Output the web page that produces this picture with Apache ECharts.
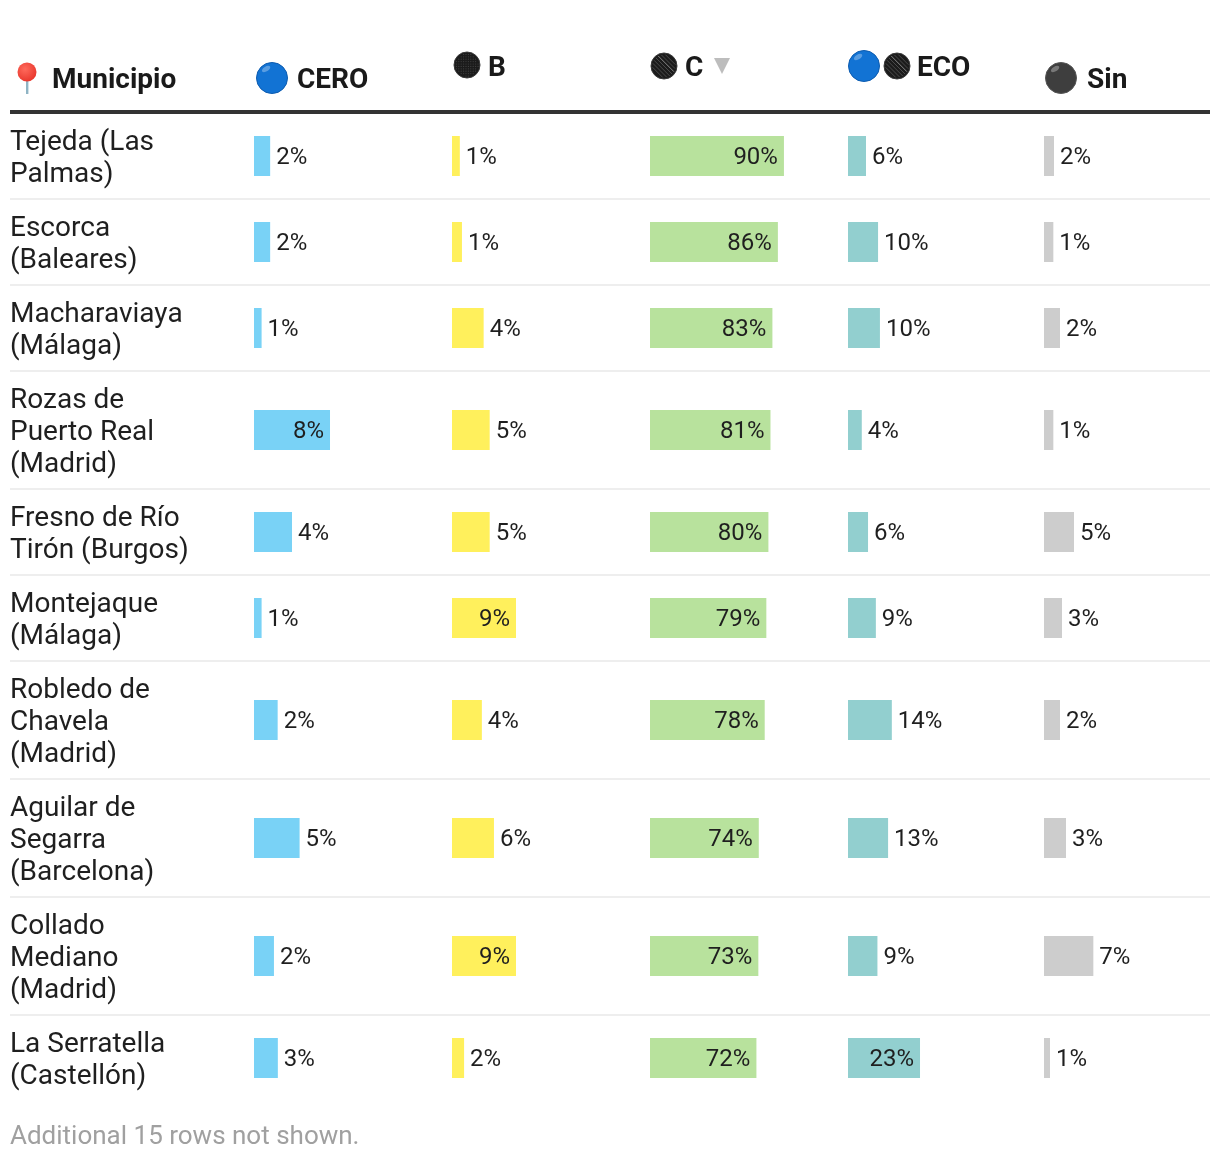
<!DOCTYPE html>
<html>
<head>
<meta charset="utf-8">
<style>html,body{margin:0;padding:0;background:#fff}#chart{width:1220px;height:1160px}</style>
<script src="https://cdn.jsdelivr.net/npm/echarts@6/dist/echarts.min.js"></script>
</head>
<body>
<div id="chart"></div>
<script>
const municipios = [
  "Tejeda (Las\nPalmas)", "Escorca\n(Baleares)", "Macharaviaya\n(Málaga)",
  "Rozas de\nPuerto Real\n(Madrid)", "Fresno de Río\nTirón (Burgos)", "Montejaque\n(Málaga)",
  "Robledo de\nChavela\n(Madrid)", "Aguilar de\nSegarra\n(Barcelona)", "Collado\nMediano\n(Madrid)",
  "La Serratella\n(Castellón)"
];
const cero = [1.7, 1.7, 0.8, 8.0, 4.0, 0.8, 2.49, 4.8, 2.1, 2.51];
const b    = [1.1, 1.4, 4.45, 5.3, 5.3, 9.0, 4.2, 5.9, 9.0, 1.7];
const c    = [90.49, 86.4, 82.7, 81.4, 80.0, 78.6, 77.5, 73.5, 73.2, 71.9];
const eco  = [5.75, 9.6, 10.2, 4.4, 6.4, 8.9, 14.0, 12.8, 9.4, 23.0];
const sin  = [1.5, 1.4, 2.4, 1.4, 4.5, 2.7, 2.4, 3.3, 7.4, 0.9];
const headers = ["Municipio", "CERO", "B", "C", "ECO", "Sin"];
const footnote = "Additional 15 rows not shown.";

const FONT = "Roboto";
const INK = "#1f1f1f";
const TOP = 113, LINE = 32, PAD = 22, BAR_H = 40, COL_W = 160;

// rows are as tall as their wrapped name
let cursor = 0;
const rowCenters = [], rowEnds = [];
municipios.forEach(n => {
  const h = n.split("\n").length * LINE + PAD;
  rowCenters.push(cursor + h / 2);
  cursor += h;
  rowEnds.push(cursor);
});
const TOTAL = cursor;

const columns = [
  { name: "CERO", data: cero, color: "#79d2f6", left: 254,  max: 16.84 },
  { name: "B",    data: b,    color: "#fff05c", left: 452,  max: 22.5 },
  { name: "C",    data: c,    color: "#b8e29d", left: 650,  max: 108.1 },
  { name: "ECO",  data: eco,  color: "#92cfcf", left: 848,  max: 51.1 },
  { name: "Sin",  data: sin,  color: "#cdcdcd", left: 1044, max: 24 }
];

const grid = [{ left: 10, top: TOP, width: 230, height: TOTAL }];
const xAxis = [{ gridIndex: 0, type: "value", min: 0, max: 1, show: false }];
const yAxis = [{ gridIndex: 0, type: "value", min: 0, max: TOTAL, inverse: true, show: false }];
const series = [{
  type: "custom", name: "Municipio", xAxisIndex: 0, yAxisIndex: 0, silent: true, clip: false,
  data: municipios.map((n, i) => [0, rowCenters[i], n]),
  encode: { x: 0, y: 1 },
  renderItem: (p, api) => {
    const pt = api.coord([0, api.value(1)]);
    return { type: "text", style: {
      text: municipios[p.dataIndex], x: pt[0], y: pt[1] + 3,
      fontFamily: FONT, fontSize: 28, lineHeight: LINE, fill: INK,
      align: "left", verticalAlign: "middle" } };
  }
}];

columns.forEach((col, k) => {
  const idx = k + 1;
  grid.push({ left: col.left, top: TOP, width: COL_W, height: TOTAL });
  xAxis.push({ gridIndex: idx, type: "value", min: 0, max: col.max, show: false });
  yAxis.push({ gridIndex: idx, type: "value", min: 0, max: TOTAL, inverse: true, show: false });
  series.push({
    type: "custom", name: col.name, xAxisIndex: idx, yAxisIndex: idx, silent: true, clip: false,
    data: col.data.map((v, i) => [v, rowCenters[i]]),
    encode: { x: 0, y: 1 },
    renderItem: (p, api) => {
      const v = api.value(0), y = api.value(1);
      const a = api.coord([0, y]), e = api.coord([v, y]);
      const w = e[0] - a[0];
      const inside = w >= 60;
      return { type: "group", children: [
        { type: "rect", shape: { x: a[0], y: a[1] - BAR_H / 2, width: w, height: BAR_H },
          style: { fill: col.color } },
        { type: "text", style: {
          text: Math.round(v) + "%", x: inside ? e[0] - 6 : e[0] + 6, y: a[1] + 1.5,
          fontFamily: FONT, fontSize: 24, fill: INK,
          align: inside ? "right" : "left", verticalAlign: "middle" } }
      ] };
    }
  });
});

// header text, rules and the emoji-like icons
const g = [];
const headText = (t, x, y) => g.push({ type: "text", silent: true, style: {
  text: t, x, y, fontFamily: FONT, fontWeight: 700, fontSize: 28, fill: "#1a1a1a",
  align: "left", verticalAlign: "middle" } });
const gloss = (cx, cy, r) => g.push({ type: "ellipse", silent: true,
  shape: { cx: cx - r * 0.38, cy: cy - r * 0.58, rx: r * 0.3, ry: r * 0.16 },
  rotation: 0.55, originX: cx - r * 0.38, originY: cy - r * 0.58,
  style: { fill: "rgba(255,255,255,0.3)" } });
const blue = (cx, cy, r) => {
  g.push({ type: "circle", silent: true, shape: { cx, cy, r },
    style: { fill: "#1273d4", stroke: "#0d5cb0", lineWidth: 1 } });
  gloss(cx, cy, r);
};
const dark = (cx, cy, r, kind) => {
  g.push({ type: "circle", silent: true, shape: { cx, cy, r },
    style: { fill: "#1b1b1b", stroke: "#3a3a3a", lineWidth: 1 } });
  if (kind === "dots") {
    for (let x = -r; x <= r; x += 2.4) for (let y = -r; y <= r; y += 2.4) {
      if (x * x + y * y < (r - 1.5) * (r - 1.5))
        g.push({ type: "circle", silent: true, shape: { cx: cx + x, cy: cy + y, r: 0.6 }, style: { fill: "#404040" } });
    }
  } else {
    for (let d = -9; d <= 9; d += 3) {
      const half = Math.sqrt(Math.max(0, (r - 1.5) * (r - 1.5) - d * d));
      const ux = Math.SQRT1_2, uy = Math.SQRT1_2;
      const mx = cx + d * uy, my = cy - d * ux;
      g.push({ type: "line", silent: true,
        shape: { x1: mx - half * ux, y1: my - half * uy, x2: mx + half * ux, y2: my + half * uy },
        style: { stroke: d === 3 ? "#8a8a8a" : "#4a4a4a", lineWidth: 1 } });
    }
  }
};

// pin
g.push({ type: "rect", silent: true, shape: { x: 26, y: 80, width: 2.4, height: 14 }, style: { fill: "#8fb4c4" } });
g.push({ type: "circle", silent: true, shape: { cx: 27, cy: 72, r: 9.5 },
  style: { fill: { type: "radial", x: 0.4, y: 0.35, r: 0.7,
    colorStops: [{ offset: 0, color: "#ff6a5c" }, { offset: 1, color: "#e8352b" }] } } });
headText(headers[0], 52, 80.5);

blue(272, 78, 15.5);
headText(headers[1], 297, 80.5);
dark(467, 65, 13, "dots");
headText(headers[2], 488, 68.5);
dark(664, 66, 13, "stripes");
headText(headers[3], 685, 68.5);
g.push({ type: "polygon", silent: true, shape: { points: [[714, 58], [730, 58], [722, 74]] }, style: { fill: "#bdbdbd" } });
blue(864, 66, 15.5);
dark(897, 66, 13, "stripes");
headText(headers[4], 917, 68.5);
g.push({ type: "circle", silent: true, shape: { cx: 1061, cy: 78, r: 15.5 }, style: { fill: "#3e3e3e", stroke: "#555", lineWidth: 1 } });
gloss(1061, 78, 15.5);
headText(headers[5], 1087, 80.5);

g.push({ type: "rect", silent: true, shape: { x: 10, y: 110, width: 1200, height: 4 }, style: { fill: "#333333" } });
rowEnds.slice(0, -1).forEach(e => g.push({ type: "rect", silent: true,
  shape: { x: 10, y: TOP + e - 1, width: 1200, height: 2 }, style: { fill: "#eeeeee" } }));
g.push({ type: "text", silent: true, style: {
  text: footnote, x: 10, y: 1137.5, fontFamily: FONT, fontSize: 26, fill: "#a0a0a0",
  align: "left", verticalAlign: "middle" } });

const chart = echarts.init(document.getElementById("chart"), null, { renderer: "canvas" });
chart.setOption({ animation: false, backgroundColor: "#ffffff", textStyle: { fontFamily: FONT },
  grid, xAxis, yAxis, series, graphic: { elements: g } });
</script>
</body>
</html>
